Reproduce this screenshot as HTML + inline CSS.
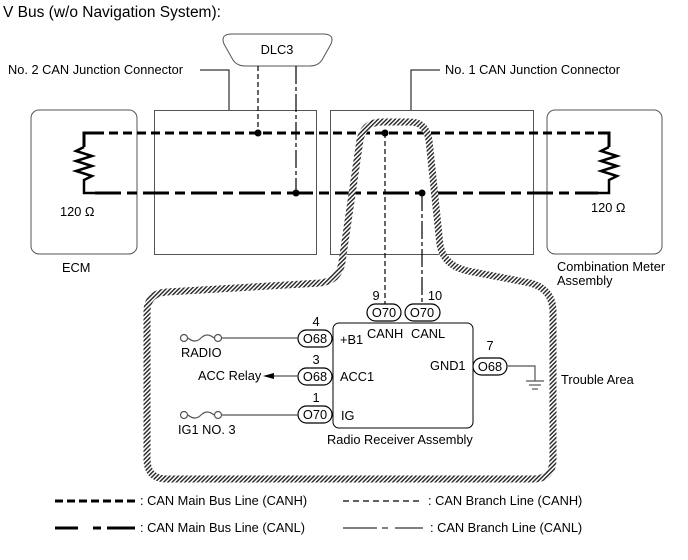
<!DOCTYPE html>
<html><head><meta charset="utf-8"><style>
html,body{margin:0;padding:0;background:#fff}
svg{display:block}
text{font-family:"Liberation Sans",Arial,sans-serif;font-size:12.8px;fill:#000}
</style></head><body>
<svg width="688" height="560" viewBox="0 0 688 560" xmlns="http://www.w3.org/2000/svg">
<defs>
<pattern id="h" width="3" height="3" patternUnits="userSpaceOnUse" patternTransform="rotate(45)">
<rect width="3" height="3" fill="#fff"/><rect width="1.4" height="3" fill="#222"/>
</pattern>
</defs>
<text x="3" y="17" style="font-size:15.5px">V Bus (w/o Navigation System):</text>

<rect x="31" y="110" width="106" height="144" rx="8" fill="none" stroke="#555" stroke-width="1"/>
<rect x="154.5" y="110.5" width="162" height="144" fill="none" stroke="#555" stroke-width="1"/>
<rect x="330.5" y="110.5" width="203" height="144" fill="none" stroke="#555" stroke-width="1"/>
<rect x="547" y="110" width="115" height="144" rx="8" fill="none" stroke="#555" stroke-width="1"/>

<path d="M232 34 L323 34 Q335 34 331 44 L322 60 Q318 66 310 66 L245 66 Q237 66 233 60 L224 44 Q220 34 232 34 Z" fill="#fff" stroke="#555" stroke-width="1"/>
<text x="277" y="54" text-anchor="middle">DLC3</text>

<text x="8" y="74">No. 2 CAN Junction Connector</text>
<polyline points="200,70 229,70 229,110" fill="none" stroke="#000" stroke-width="1"/>
<text x="445" y="74">No. 1 CAN Junction Connector</text>
<polyline points="440,70 411,70 411,110" fill="none" stroke="#000" stroke-width="1"/>

<polyline points="95,133 84,133 84,147" fill="none" stroke="#000" stroke-width="3"/>
<polyline points="84,147 76,151 92,156 76,161 92,166 76,171 92,176 84,180 84,193 95,193" fill="none" stroke="#000" stroke-width="2.5"/>
<line x1="95" y1="133" x2="598" y2="133" stroke="#000" stroke-width="3" stroke-dasharray="9,5"/>
<line x1="95" y1="193" x2="598" y2="193" stroke="#000" stroke-width="3" stroke-dasharray="26,6,10,6"/>
<polyline points="598,133 609,133 609,147" fill="none" stroke="#000" stroke-width="3"/>
<polyline points="609,147 601,151 617,156 601,161 617,166 601,171 617,176 609,180 609,193 598,193" fill="none" stroke="#000" stroke-width="2.5"/>
<text x="60" y="216">120 Ω</text>
<text x="591" y="212">120 Ω</text>
<text x="62" y="272">ECM</text>
<text x="557" y="271">Combination Meter</text>
<text x="557" y="285">Assembly</text>

<line x1="258" y1="66" x2="258" y2="133" stroke="#000" stroke-width="1.2" stroke-dasharray="5,3"/>
<line x1="296" y1="66" x2="296" y2="193" stroke="#000" stroke-width="1.2" stroke-dasharray="18,3,4,3"/>
<circle cx="258" cy="133" r="3.5"/><circle cx="296" cy="193" r="3.5"/>

<path d="M147 462 L147 312 Q147 293 167 292 L320 283 Q339 281 342 262 L360 140 Q364 122 382 122 L410 122 Q426 122 429 140 L440 245 Q444 266 468 271 L530 283 Q553 289 553 312 L553 459 Q553 479 533 479 L167 479 Q147 479 147 459 Z" fill="none" stroke="url(#h)" stroke-width="7"/>

<line x1="385" y1="133" x2="385" y2="304" stroke="#000" stroke-width="1.2" stroke-dasharray="5,3"/>
<line x1="422" y1="193" x2="422" y2="304" stroke="#000" stroke-width="1.2" stroke-dasharray="18,3,4,3"/>
<circle cx="385" cy="133" r="3.5"/><circle cx="422" cy="193" r="3.5"/>

<rect x="333" y="323" width="140" height="105" rx="6" fill="#fff" stroke="#000" stroke-width="1"/>
<g stroke="#000" stroke-width="1.2" fill="#fff">
<rect x="367" y="304" width="34" height="17" rx="8.5"/>
<rect x="405" y="304" width="35" height="17" rx="8.5"/>
<rect x="298" y="330" width="34" height="17" rx="8.5"/>
<rect x="298" y="368" width="34" height="17" rx="8.5"/>
<rect x="298" y="406" width="34" height="17" rx="8.5"/>
<rect x="473" y="358" width="34" height="17" rx="8.5"/>
</g>
<text x="384" y="317" text-anchor="middle">O70</text>
<text x="422" y="317" text-anchor="middle">O70</text>
<text x="315" y="343" text-anchor="middle">O68</text>
<text x="315" y="381" text-anchor="middle">O68</text>
<text x="315" y="419" text-anchor="middle">O70</text>
<text x="490" y="371" text-anchor="middle">O68</text>
<text x="376" y="300" text-anchor="middle">9</text>
<text x="435" y="300" text-anchor="middle">10</text>
<text x="316" y="326" text-anchor="middle">4</text>
<text x="316" y="364" text-anchor="middle">3</text>
<text x="316" y="402" text-anchor="middle">1</text>
<text x="490" y="350" text-anchor="middle">7</text>
<text x="340" y="344">+B1</text>
<text x="367" y="338">CANH</text>
<text x="411" y="338">CANL</text>
<text x="340" y="381">ACC1</text>
<text x="341" y="420">IG</text>
<text x="430" y="370">GND1</text>
<text x="327" y="444">Radio Receiver Assembly</text>

<g stroke="#555" stroke-width="1.2" fill="none">
<line x1="222" y1="338" x2="298" y2="338"/>
<line x1="222" y1="415" x2="298" y2="415"/>
<line x1="274" y1="376" x2="298" y2="376"/>
<circle cx="184" cy="338" r="3.5"/><circle cx="218" cy="338" r="3.5"/>
<path d="M188 338 Q195 344 201 338 Q207 332 214 338"/>
<circle cx="184" cy="415" r="3.5"/><circle cx="218" cy="415" r="3.5"/>
<path d="M188 415 Q195 421 201 415 Q207 409 214 415"/>
<polyline points="507,366 535,366 535,381"/>
<line x1="526" y1="381" x2="544" y2="381"/>
<line x1="529" y1="385" x2="541" y2="385"/>
<line x1="532" y1="389" x2="538" y2="389"/>
</g>
<polygon points="263,376 274,373 274,379" fill="#000"/>
<text x="181" y="357">RADIO</text>
<text x="198" y="380">ACC Relay</text>
<text x="178" y="434">IG1 NO. 3</text>
<text x="561" y="384">Trouble Area</text>

<line x1="55" y1="501" x2="135" y2="501" stroke="#000" stroke-width="3" stroke-dasharray="8,4"/>
<text x="140" y="505">: CAN Main Bus Line (CANH)</text>
<line x1="343" y1="501" x2="423" y2="501" stroke="#000" stroke-width="1.2" stroke-dasharray="6,4"/>
<text x="428" y="505">: CAN Branch Line (CANH)</text>
<line x1="55" y1="528" x2="78" y2="528" stroke="#000" stroke-width="3"/>
<line x1="93" y1="528" x2="101" y2="528" stroke="#000" stroke-width="3"/>
<line x1="107" y1="528" x2="135" y2="528" stroke="#000" stroke-width="3"/>
<text x="140" y="532">: CAN Main Bus Line (CANL)</text>
<line x1="343" y1="528" x2="377" y2="528" stroke="#000" stroke-width="1"/>
<line x1="382" y1="528" x2="388" y2="528" stroke="#000" stroke-width="1"/>
<line x1="395" y1="528" x2="423" y2="528" stroke="#000" stroke-width="1"/>
<text x="430" y="532">: CAN Branch Line (CANL)</text>
</svg>
</body></html>
